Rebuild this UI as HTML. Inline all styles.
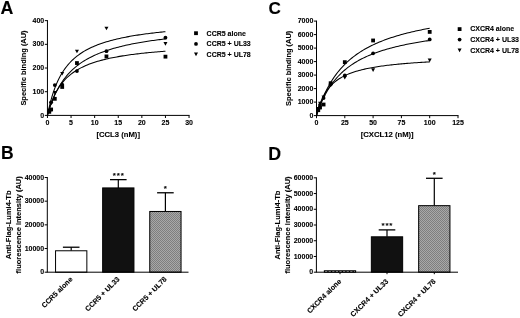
<!DOCTYPE html>
<html><head><meta charset="utf-8"><title>Figure</title>
<style>text{stroke:#000;stroke-width:0.1px;}html,body{margin:0;padding:0;background:#fff;}svg{display:block;filter:blur(0.35px);}</style></head>
<body>
<svg width="520" height="318" viewBox="0 0 520 318" font-family="Liberation Sans, Arial, sans-serif" font-weight="bold" fill="#000" stroke="none">
<defs><pattern id="chk" width="2" height="2" patternUnits="userSpaceOnUse"><rect width="2" height="2" fill="#a8a8a8"/><rect width="1" height="1" fill="#7e7e7e"/><rect x="1" y="1" width="1" height="1" fill="#7e7e7e"/></pattern></defs>
<rect width="520" height="318" fill="#fff"/>
<text x="0.40" y="13.70" font-size="17.8" text-anchor="start" >A</text>
<text x="1.00" y="159.20" font-size="17.5" text-anchor="start" >B</text>
<text x="268.50" y="13.60" font-size="17.2" text-anchor="start" >C</text>
<text x="268.30" y="159.50" font-size="17.8" text-anchor="start" >D</text>
<line x1="47.45" y1="115.40" x2="47.45" y2="20.14" stroke="#000" stroke-width="1.0"/>
<line x1="46.95" y1="115.40" x2="189.55" y2="115.40" stroke="#000" stroke-width="1.0"/>
<line x1="47.45" y1="115.40" x2="47.45" y2="118.00" stroke="#000" stroke-width="1.0"/>
<text x="47.45" y="125.20" font-size="7" text-anchor="middle" >0</text>
<line x1="71.05" y1="115.40" x2="71.05" y2="118.00" stroke="#000" stroke-width="1.0"/>
<text x="71.05" y="125.20" font-size="7" text-anchor="middle" >5</text>
<line x1="94.65" y1="115.40" x2="94.65" y2="118.00" stroke="#000" stroke-width="1.0"/>
<text x="94.65" y="125.20" font-size="7" text-anchor="middle" >10</text>
<line x1="118.25" y1="115.40" x2="118.25" y2="118.00" stroke="#000" stroke-width="1.0"/>
<text x="118.25" y="125.20" font-size="7" text-anchor="middle" >15</text>
<line x1="141.85" y1="115.40" x2="141.85" y2="118.00" stroke="#000" stroke-width="1.0"/>
<text x="141.85" y="125.20" font-size="7" text-anchor="middle" >20</text>
<line x1="165.45" y1="115.40" x2="165.45" y2="118.00" stroke="#000" stroke-width="1.0"/>
<text x="165.45" y="125.20" font-size="7" text-anchor="middle" >25</text>
<line x1="189.05" y1="115.40" x2="189.05" y2="118.00" stroke="#000" stroke-width="1.0"/>
<text x="189.05" y="125.20" font-size="7" text-anchor="middle" >30</text>
<line x1="44.85" y1="115.40" x2="47.45" y2="115.40" stroke="#000" stroke-width="1.0"/>
<text x="44.25" y="117.55" font-size="7" text-anchor="end" >0</text>
<line x1="44.85" y1="91.71" x2="47.45" y2="91.71" stroke="#000" stroke-width="1.0"/>
<text x="44.25" y="93.86" font-size="7" text-anchor="end" >100</text>
<line x1="44.85" y1="68.02" x2="47.45" y2="68.02" stroke="#000" stroke-width="1.0"/>
<text x="44.25" y="70.17" font-size="7" text-anchor="end" >200</text>
<line x1="44.85" y1="44.33" x2="47.45" y2="44.33" stroke="#000" stroke-width="1.0"/>
<text x="44.25" y="46.48" font-size="7" text-anchor="end" >300</text>
<line x1="44.85" y1="20.64" x2="47.45" y2="20.64" stroke="#000" stroke-width="1.0"/>
<text x="44.25" y="22.79" font-size="7" text-anchor="end" >400</text>
<text x="118.20" y="136.60" font-size="7.7" text-anchor="middle" >[CCL3 (nM)]</text>
<text transform="translate(26.30,68.02) rotate(-90)" font-size="7.45" text-anchor="middle">Specific binding (AU)</text>
<polyline points="47.45,115.40 48.93,108.36 50.40,102.27 51.88,96.96 53.35,92.27 54.83,88.12 56.30,84.40 57.78,81.06 59.25,78.04 60.73,75.30 62.20,72.80 63.67,70.51 65.15,68.40 66.62,66.46 68.10,64.66 69.58,62.99 71.05,61.44 72.53,59.99 74.00,58.64 75.47,57.37 76.95,56.18 78.42,55.05 79.90,54.00 81.38,53.00 82.85,52.06 84.33,51.16 85.80,50.31 87.28,49.51 88.75,48.74 90.22,48.01 91.70,47.32 93.17,46.66 94.65,46.02 96.12,45.42 97.60,44.84 99.08,44.28 100.55,43.75 102.03,43.24 103.50,42.74 104.97,42.27 106.45,41.82 107.92,41.38 109.40,40.96 110.88,40.55 112.35,40.16 113.83,39.78 115.30,39.41 116.78,39.06 118.25,38.72 119.72,38.39 121.20,38.07 122.67,37.76 124.15,37.46 125.62,37.17 127.10,36.88 128.57,36.61 130.05,36.34 131.52,36.08 133.00,35.83 134.47,35.59 135.95,35.35 137.43,35.12 138.90,34.89 140.38,34.67 141.85,34.46 143.32,34.25 144.80,34.05 146.27,33.85 147.75,33.66 149.22,33.47 150.70,33.29 152.18,33.11 153.65,32.93 155.12,32.76 156.60,32.59 158.07,32.43 159.55,32.27 161.02,32.12 162.50,31.96 163.97,31.81 165.45,31.67" fill="none" stroke="#000" stroke-width="1.05"/>
<polyline points="47.45,115.40 48.93,110.42 50.40,105.94 51.88,101.89 53.35,98.21 54.83,94.86 56.30,91.79 57.78,88.96 59.25,86.36 60.73,83.95 62.20,81.72 63.67,79.64 65.15,77.70 66.62,75.88 68.10,74.18 69.58,72.59 71.05,71.09 72.53,69.67 74.00,68.33 75.47,67.07 76.95,65.87 78.42,64.74 79.90,63.66 81.38,62.64 82.85,61.66 84.33,60.73 85.80,59.84 87.28,59.00 88.75,58.19 90.22,57.41 91.70,56.67 93.17,55.95 94.65,55.27 96.12,54.61 97.60,53.98 99.08,53.37 100.55,52.79 102.03,52.22 103.50,51.68 104.97,51.15 106.45,50.65 107.92,50.16 109.40,49.68 110.88,49.23 112.35,48.78 113.83,48.36 115.30,47.94 116.78,47.54 118.25,47.15 119.72,46.77 121.20,46.40 122.67,46.05 124.15,45.70 125.62,45.36 127.10,45.04 128.57,44.72 130.05,44.41 131.52,44.11 133.00,43.82 134.47,43.53 135.95,43.25 137.43,42.98 138.90,42.72 140.38,42.46 141.85,42.21 143.32,41.96 144.80,41.72 146.27,41.49 147.75,41.26 149.22,41.04 150.70,40.82 152.18,40.60 153.65,40.40 155.12,40.19 156.60,39.99 158.07,39.80 159.55,39.61 161.02,39.42 162.50,39.24 163.97,39.06 165.45,38.88" fill="none" stroke="#000" stroke-width="1.05"/>
<polyline points="47.45,115.40 48.93,110.03 50.40,105.39 51.88,101.33 53.35,97.75 54.83,94.57 56.30,91.73 57.78,89.17 59.25,86.86 60.73,84.76 62.20,82.84 63.67,81.08 65.15,79.47 66.62,77.97 68.10,76.59 69.58,75.31 71.05,74.12 72.53,73.01 74.00,71.97 75.47,70.99 76.95,70.07 78.42,69.21 79.90,68.40 81.38,67.63 82.85,66.91 84.33,66.22 85.80,65.57 87.28,64.95 88.75,64.36 90.22,63.80 91.70,63.26 93.17,62.75 94.65,62.26 96.12,61.80 97.60,61.35 99.08,60.92 100.55,60.51 102.03,60.12 103.50,59.74 104.97,59.37 106.45,59.02 107.92,58.69 109.40,58.36 110.88,58.05 112.35,57.75 113.83,57.45 115.30,57.17 116.78,56.90 118.25,56.64 119.72,56.38 121.20,56.13 122.67,55.89 124.15,55.66 125.62,55.44 127.10,55.22 128.57,55.01 130.05,54.80 131.52,54.60 133.00,54.41 134.47,54.22 135.95,54.04 137.43,53.86 138.90,53.68 140.38,53.52 141.85,53.35 143.32,53.19 144.80,53.03 146.27,52.88 147.75,52.73 149.22,52.59 150.70,52.45 152.18,52.31 153.65,52.17 155.12,52.04 156.60,51.91 158.07,51.79 159.55,51.66 161.02,51.54 162.50,51.42 163.97,51.31 165.45,51.20" fill="none" stroke="#000" stroke-width="1.05"/>
<rect x="47.39" y="109.95" width="3.8" height="3.8" fill="#000"/>
<rect x="49.23" y="107.58" width="3.8" height="3.8" fill="#000"/>
<rect x="52.91" y="96.92" width="3.8" height="3.8" fill="#000"/>
<rect x="60.30" y="85.07" width="3.8" height="3.8" fill="#000"/>
<rect x="75.05" y="61.15" width="3.8" height="3.8" fill="#000"/>
<rect x="104.55" y="54.51" width="3.8" height="3.8" fill="#000"/>
<rect x="163.55" y="54.75" width="3.8" height="3.8" fill="#000"/>
<circle cx="49.29" cy="111.14" r="1.9" fill="#000"/>
<circle cx="51.13" cy="102.37" r="1.9" fill="#000"/>
<circle cx="54.81" cy="85.08" r="1.9" fill="#000"/>
<circle cx="62.20" cy="84.60" r="1.9" fill="#000"/>
<circle cx="76.95" cy="71.10" r="1.9" fill="#000"/>
<circle cx="106.45" cy="51.20" r="1.9" fill="#000"/>
<circle cx="165.45" cy="37.70" r="1.9" fill="#000"/>
<polygon points="47.29,108.86 51.29,108.86 49.29,112.46" fill="#000"/>
<polygon points="49.13,101.76 53.13,101.76 51.13,105.36" fill="#000"/>
<polygon points="52.81,91.09 56.81,91.09 54.81,94.69" fill="#000"/>
<polygon points="60.20,71.91 64.20,71.91 62.20,75.51" fill="#000"/>
<polygon points="74.95,49.64 78.95,49.64 76.95,53.24" fill="#000"/>
<polygon points="104.45,26.66 108.45,26.66 106.45,30.26" fill="#000"/>
<polygon points="163.45,42.06 167.45,42.06 165.45,45.66" fill="#000"/>
<rect x="194.10" y="31.30" width="3.8" height="3.8" fill="#000"/>
<text x="206.60" y="35.50" font-size="7" text-anchor="start" >CCR5 alone</text>
<circle cx="196.00" cy="43.90" r="1.9" fill="#000"/>
<text x="206.60" y="46.20" font-size="7" text-anchor="start" >CCR5 + UL33</text>
<polygon points="194.00,52.60 198.00,52.60 196.00,56.20" fill="#000"/>
<text x="206.60" y="56.70" font-size="7" text-anchor="start" >CCR5 + UL78</text>
<line x1="316.50" y1="115.60" x2="316.50" y2="20.60" stroke="#000" stroke-width="1.0"/>
<line x1="316.00" y1="115.60" x2="458.50" y2="115.60" stroke="#000" stroke-width="1.0"/>
<line x1="316.50" y1="115.60" x2="316.50" y2="118.20" stroke="#000" stroke-width="1.0"/>
<text x="316.50" y="125.40" font-size="7" text-anchor="middle" >0</text>
<line x1="344.80" y1="115.60" x2="344.80" y2="118.20" stroke="#000" stroke-width="1.0"/>
<text x="344.80" y="125.40" font-size="7" text-anchor="middle" >25</text>
<line x1="373.10" y1="115.60" x2="373.10" y2="118.20" stroke="#000" stroke-width="1.0"/>
<text x="373.10" y="125.40" font-size="7" text-anchor="middle" >50</text>
<line x1="401.40" y1="115.60" x2="401.40" y2="118.20" stroke="#000" stroke-width="1.0"/>
<text x="401.40" y="125.40" font-size="7" text-anchor="middle" >75</text>
<line x1="429.70" y1="115.60" x2="429.70" y2="118.20" stroke="#000" stroke-width="1.0"/>
<text x="429.70" y="125.40" font-size="7" text-anchor="middle" >100</text>
<line x1="458.00" y1="115.60" x2="458.00" y2="118.20" stroke="#000" stroke-width="1.0"/>
<text x="458.00" y="125.40" font-size="7" text-anchor="middle" >125</text>
<line x1="313.90" y1="115.60" x2="316.50" y2="115.60" stroke="#000" stroke-width="1.0"/>
<text x="313.30" y="117.75" font-size="7" text-anchor="end" >0</text>
<line x1="313.90" y1="102.10" x2="316.50" y2="102.10" stroke="#000" stroke-width="1.0"/>
<text x="313.30" y="104.25" font-size="7" text-anchor="end" >1000</text>
<line x1="313.90" y1="88.60" x2="316.50" y2="88.60" stroke="#000" stroke-width="1.0"/>
<text x="313.30" y="90.75" font-size="7" text-anchor="end" >2000</text>
<line x1="313.90" y1="75.10" x2="316.50" y2="75.10" stroke="#000" stroke-width="1.0"/>
<text x="313.30" y="77.25" font-size="7" text-anchor="end" >3000</text>
<line x1="313.90" y1="61.60" x2="316.50" y2="61.60" stroke="#000" stroke-width="1.0"/>
<text x="313.30" y="63.75" font-size="7" text-anchor="end" >4000</text>
<line x1="313.90" y1="48.10" x2="316.50" y2="48.10" stroke="#000" stroke-width="1.0"/>
<text x="313.30" y="50.25" font-size="7" text-anchor="end" >5000</text>
<line x1="313.90" y1="34.60" x2="316.50" y2="34.60" stroke="#000" stroke-width="1.0"/>
<text x="313.30" y="36.75" font-size="7" text-anchor="end" >6000</text>
<line x1="313.90" y1="21.10" x2="316.50" y2="21.10" stroke="#000" stroke-width="1.0"/>
<text x="313.30" y="23.25" font-size="7" text-anchor="end" >7000</text>
<text x="387.20" y="136.60" font-size="7.7" text-anchor="middle" >[CXCL12 (nM)]</text>
<text transform="translate(291.30,68.35) rotate(-90)" font-size="7.45" text-anchor="middle">Specific binding (AU)</text>
<polyline points="316.50,115.60 317.92,111.13 319.33,107.00 320.75,103.17 322.16,99.60 323.57,96.28 324.99,93.17 326.40,90.27 327.82,87.54 329.24,84.97 330.65,82.55 332.06,80.27 333.48,78.12 334.89,76.07 336.31,74.14 337.73,72.30 339.14,70.55 340.56,68.89 341.97,67.30 343.38,65.79 344.80,64.35 346.21,62.97 347.63,61.65 349.05,60.38 350.46,59.17 351.88,58.00 353.29,56.88 354.70,55.81 356.12,54.77 357.53,53.78 358.95,52.82 360.37,51.89 361.78,51.00 363.19,50.14 364.61,49.31 366.02,48.51 367.44,47.73 368.86,46.98 370.27,46.25 371.69,45.54 373.10,44.86 374.51,44.20 375.93,43.56 377.34,42.93 378.76,42.33 380.18,41.74 381.59,41.17 383.00,40.62 384.42,40.08 385.83,39.55 387.25,39.04 388.66,38.54 390.08,38.06 391.50,37.59 392.91,37.13 394.32,36.68 395.74,36.24 397.15,35.81 398.57,35.40 399.99,34.99 401.40,34.60 402.81,34.21 404.23,33.83 405.64,33.46 407.06,33.10 408.48,32.75 409.89,32.40 411.31,32.06 412.72,31.73 414.13,31.41 415.55,31.09 416.96,30.78 418.38,30.48 419.79,30.18 421.21,29.89 422.62,29.60 424.04,29.32 425.45,29.05 426.87,28.78 428.28,28.52 429.70,28.26" fill="none" stroke="#000" stroke-width="1.05"/>
<polyline points="316.50,115.60 317.92,111.43 319.33,107.62 320.75,104.10 322.16,100.86 323.57,97.86 324.99,95.07 326.40,92.48 327.82,90.05 329.24,87.79 330.65,85.66 332.06,83.67 333.48,81.79 334.89,80.02 336.31,78.35 337.73,76.76 339.14,75.26 340.56,73.84 341.97,72.49 343.38,71.21 344.80,69.98 346.21,68.82 347.63,67.70 349.05,66.64 350.46,65.62 351.88,64.64 353.29,63.71 354.70,62.81 356.12,61.95 357.53,61.13 358.95,60.33 360.37,59.57 361.78,58.83 363.19,58.12 364.61,57.44 366.02,56.78 367.44,56.14 368.86,55.52 370.27,54.93 371.69,54.35 373.10,53.80 374.51,53.26 375.93,52.73 377.34,52.23 378.76,51.74 380.18,51.26 381.59,50.80 383.00,50.35 384.42,49.91 385.83,49.49 387.25,49.08 388.66,48.67 390.08,48.28 391.50,47.90 392.91,47.53 394.32,47.17 395.74,46.82 397.15,46.48 398.57,46.15 399.99,45.82 401.40,45.51 402.81,45.20 404.23,44.89 405.64,44.60 407.06,44.31 408.48,44.03 409.89,43.75 411.31,43.48 412.72,43.22 414.13,42.96 415.55,42.71 416.96,42.47 418.38,42.22 419.79,41.99 421.21,41.76 422.62,41.53 424.04,41.31 425.45,41.09 426.87,40.88 428.28,40.67 429.70,40.47" fill="none" stroke="#000" stroke-width="1.05"/>
<polyline points="316.50,115.60 317.92,110.28 319.33,105.81 320.75,102.01 322.16,98.74 323.57,95.89 324.99,93.39 326.40,91.18 327.82,89.21 329.24,87.44 330.65,85.85 332.06,84.40 333.48,83.08 334.89,81.88 336.31,80.77 337.73,79.76 339.14,78.81 340.56,77.94 341.97,77.13 343.38,76.37 344.80,75.67 346.21,75.01 347.63,74.39 349.05,73.80 350.46,73.25 351.88,72.74 353.29,72.25 354.70,71.78 356.12,71.34 357.53,70.93 358.95,70.53 360.37,70.15 361.78,69.79 363.19,69.45 364.61,69.12 366.02,68.81 367.44,68.51 368.86,68.22 370.27,67.95 371.69,67.68 373.10,67.43 374.51,67.18 375.93,66.95 377.34,66.72 378.76,66.51 380.18,66.30 381.59,66.10 383.00,65.90 384.42,65.71 385.83,65.53 387.25,65.35 388.66,65.18 390.08,65.02 391.50,64.86 392.91,64.71 394.32,64.56 395.74,64.41 397.15,64.27 398.57,64.13 399.99,64.00 401.40,63.87 402.81,63.74 404.23,63.62 405.64,63.50 407.06,63.39 408.48,63.28 409.89,63.17 411.31,63.06 412.72,62.96 414.13,62.85 415.55,62.76 416.96,62.66 418.38,62.56 419.79,62.47 421.21,62.38 422.62,62.30 424.04,62.21 425.45,62.13 426.87,62.04 428.28,61.96 429.70,61.89" fill="none" stroke="#000" stroke-width="1.05"/>
<rect x="316.37" y="108.30" width="3.8" height="3.8" fill="#000"/>
<rect x="318.14" y="105.60" width="3.8" height="3.8" fill="#000"/>
<rect x="321.68" y="102.63" width="3.8" height="3.8" fill="#000"/>
<rect x="328.75" y="81.30" width="3.8" height="3.8" fill="#000"/>
<rect x="342.90" y="60.24" width="3.8" height="3.8" fill="#000"/>
<rect x="371.20" y="38.57" width="3.8" height="3.8" fill="#000"/>
<rect x="427.80" y="30.00" width="3.8" height="3.8" fill="#000"/>
<circle cx="318.27" cy="109.52" r="1.9" fill="#000"/>
<circle cx="320.04" cy="104.80" r="1.9" fill="#000"/>
<circle cx="323.57" cy="98.05" r="1.9" fill="#000"/>
<circle cx="330.65" cy="84.55" r="1.9" fill="#000"/>
<circle cx="344.80" cy="75.50" r="1.9" fill="#000"/>
<circle cx="373.10" cy="53.32" r="1.9" fill="#000"/>
<circle cx="429.70" cy="39.46" r="1.9" fill="#000"/>
<polygon points="316.27,107.05 320.27,107.05 318.27,110.65" fill="#000"/>
<polygon points="318.04,101.65 322.04,101.65 320.04,105.25" fill="#000"/>
<polygon points="321.57,95.58 325.57,95.58 323.57,99.17" fill="#000"/>
<polygon points="328.65,83.42 332.65,83.42 330.65,87.02" fill="#000"/>
<polygon points="342.80,76.00 346.80,76.00 344.80,79.60" fill="#000"/>
<polygon points="371.10,68.37 375.10,68.37 373.10,71.97" fill="#000"/>
<polygon points="427.70,58.59 431.70,58.59 429.70,62.18" fill="#000"/>
<rect x="457.70" y="27.20" width="3.8" height="3.8" fill="#000"/>
<text x="470.20" y="31.40" font-size="7" text-anchor="start" >CXCR4 alone</text>
<circle cx="459.60" cy="39.60" r="1.9" fill="#000"/>
<text x="470.20" y="41.90" font-size="7" text-anchor="start" >CXCR4 + UL33</text>
<polygon points="457.60,48.60 461.60,48.60 459.60,52.20" fill="#000"/>
<text x="470.20" y="52.70" font-size="7" text-anchor="start" >CXCR4 + UL78</text>
<line x1="44.70" y1="272.20" x2="47.30" y2="272.20" stroke="#000" stroke-width="1.0"/>
<text x="44.10" y="274.35" font-size="7" text-anchor="end" >0</text>
<line x1="44.70" y1="248.52" x2="47.30" y2="248.52" stroke="#000" stroke-width="1.0"/>
<text x="44.10" y="250.67" font-size="7" text-anchor="end" >10000</text>
<line x1="44.70" y1="224.85" x2="47.30" y2="224.85" stroke="#000" stroke-width="1.0"/>
<text x="44.10" y="227.00" font-size="7" text-anchor="end" >20000</text>
<line x1="44.70" y1="201.18" x2="47.30" y2="201.18" stroke="#000" stroke-width="1.0"/>
<text x="44.10" y="203.33" font-size="7" text-anchor="end" >30000</text>
<line x1="44.70" y1="177.50" x2="47.30" y2="177.50" stroke="#000" stroke-width="1.0"/>
<text x="44.10" y="179.65" font-size="7" text-anchor="end" >40000</text>
<text transform="translate(11.20,224.85) rotate(-90)" font-size="7.5" text-anchor="middle">Anti-Flag-Lumi4-Tb</text>
<text transform="translate(20.80,224.85) rotate(-90)" font-size="7.5" text-anchor="middle">fluorescence intensity (AU)</text>
<line x1="71.20" y1="250.77" x2="71.20" y2="247.22" stroke="#000" stroke-width="1.2"/>
<line x1="62.90" y1="247.22" x2="79.50" y2="247.22" stroke="#000" stroke-width="1.3"/>
<rect x="55.55" y="250.77" width="31.30" height="21.43" fill="#fff" stroke="#000" stroke-width="1"/>
<text transform="translate(73.00,279.70) rotate(-45)" font-size="7.2" text-anchor="end">CCR5 alone</text>
<line x1="118.30" y1="187.92" x2="118.30" y2="179.63" stroke="#000" stroke-width="1.2"/>
<line x1="110.00" y1="179.63" x2="126.60" y2="179.63" stroke="#000" stroke-width="1.3"/>
<rect x="102.65" y="187.92" width="31.30" height="84.28" fill="#111" stroke="#000" stroke-width="1"/>
<text x="118.70" y="177.93" font-size="8" letter-spacing="0.8" text-anchor="middle">***</text>
<text transform="translate(120.10,279.70) rotate(-45)" font-size="7.2" text-anchor="end">CCR5 + UL33</text>
<line x1="165.40" y1="211.47" x2="165.40" y2="192.77" stroke="#000" stroke-width="1.2"/>
<line x1="157.10" y1="192.77" x2="173.70" y2="192.77" stroke="#000" stroke-width="1.3"/>
<rect x="149.75" y="211.47" width="31.30" height="60.73" fill="url(#chk)" stroke="#000" stroke-width="1"/>
<text x="165.80" y="191.07" font-size="8" letter-spacing="0.8" text-anchor="middle">*</text>
<text transform="translate(167.20,279.70) rotate(-45)" font-size="7.2" text-anchor="end">CCR5 + UL78</text>
<line x1="47.30" y1="272.20" x2="47.30" y2="177.00" stroke="#000" stroke-width="1.0"/>
<line x1="46.80" y1="272.20" x2="188.50" y2="272.20" stroke="#000" stroke-width="1.0"/>
<line x1="313.80" y1="272.20" x2="316.40" y2="272.20" stroke="#000" stroke-width="1.0"/>
<text x="313.20" y="274.35" font-size="7" text-anchor="end" >0</text>
<line x1="313.80" y1="256.47" x2="316.40" y2="256.47" stroke="#000" stroke-width="1.0"/>
<text x="313.20" y="258.62" font-size="7" text-anchor="end" >10000</text>
<line x1="313.80" y1="240.74" x2="316.40" y2="240.74" stroke="#000" stroke-width="1.0"/>
<text x="313.20" y="242.89" font-size="7" text-anchor="end" >20000</text>
<line x1="313.80" y1="225.01" x2="316.40" y2="225.01" stroke="#000" stroke-width="1.0"/>
<text x="313.20" y="227.16" font-size="7" text-anchor="end" >30000</text>
<line x1="313.80" y1="209.28" x2="316.40" y2="209.28" stroke="#000" stroke-width="1.0"/>
<text x="313.20" y="211.43" font-size="7" text-anchor="end" >40000</text>
<line x1="313.80" y1="193.55" x2="316.40" y2="193.55" stroke="#000" stroke-width="1.0"/>
<text x="313.20" y="195.70" font-size="7" text-anchor="end" >50000</text>
<line x1="313.80" y1="177.82" x2="316.40" y2="177.82" stroke="#000" stroke-width="1.0"/>
<text x="313.20" y="179.97" font-size="7" text-anchor="end" >60000</text>
<text transform="translate(280.20,225.01) rotate(-90)" font-size="7.5" text-anchor="middle">Anti-Flag-Lumi4-Tb</text>
<text transform="translate(289.70,225.01) rotate(-90)" font-size="7.5" text-anchor="middle">fluorescence intensity (AU)</text>
<rect x="323.85" y="270.23" width="32.30" height="2.47" fill="#000"/>
<line x1="325.05" y1="271.51" x2="354.95" y2="271.51" stroke="#ccc" stroke-width="0.8" stroke-dasharray="2.2 1.4"/>
<line x1="340.00" y1="272.20" x2="340.00" y2="274.20" stroke="#000" stroke-width="1.0"/>
<text transform="translate(341.80,281.80) rotate(-45)" font-size="7.2" text-anchor="end">CXCR4 alone</text>
<line x1="387.00" y1="236.81" x2="387.00" y2="229.89" stroke="#000" stroke-width="1.2"/>
<line x1="378.70" y1="229.89" x2="395.30" y2="229.89" stroke="#000" stroke-width="1.3"/>
<rect x="371.35" y="236.81" width="31.30" height="35.39" fill="#111" stroke="#000" stroke-width="1"/>
<text x="387.40" y="228.19" font-size="8" letter-spacing="0.8" text-anchor="middle">***</text>
<line x1="387.00" y1="272.20" x2="387.00" y2="274.20" stroke="#000" stroke-width="1.0"/>
<text transform="translate(388.80,281.80) rotate(-45)" font-size="7.2" text-anchor="end">CXCR4 + UL33</text>
<line x1="434.30" y1="205.66" x2="434.30" y2="178.29" stroke="#000" stroke-width="1.2"/>
<line x1="426.00" y1="178.29" x2="442.60" y2="178.29" stroke="#000" stroke-width="1.3"/>
<rect x="418.65" y="205.66" width="31.30" height="66.54" fill="url(#chk)" stroke="#000" stroke-width="1"/>
<text x="434.70" y="176.59" font-size="8" letter-spacing="0.8" text-anchor="middle">*</text>
<line x1="434.30" y1="272.20" x2="434.30" y2="274.20" stroke="#000" stroke-width="1.0"/>
<text transform="translate(436.10,281.80) rotate(-45)" font-size="7.2" text-anchor="end">CXCR4 + UL78</text>
<line x1="316.40" y1="272.20" x2="316.40" y2="177.32" stroke="#000" stroke-width="1.0"/>
<line x1="315.90" y1="272.20" x2="458.00" y2="272.20" stroke="#000" stroke-width="1.0"/>
</svg>
</body></html>
